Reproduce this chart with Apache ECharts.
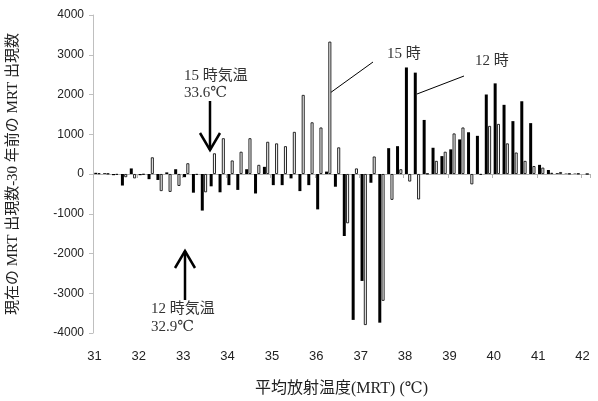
<!DOCTYPE html>
<html>
<head>
<meta charset="utf-8">
<script src="https://cdn.jsdelivr.net/npm/echarts@6/dist/echarts.min.js"></script>
<style>
  html, body { margin: 0; padding: 0; background: #fff; }
  #chart { width: 598px; height: 401px; }
</style>
</head>
<body>
<div id="chart"></div>
<script>
// MRT bins (0.2 ℃ wide); every fifth bin carries an axis label
const bins = ['31','31.2','31.4','31.6','31.8','32','32.2','32.4','32.6','32.8',
  '33','33.2','33.4','33.6','33.8','34','34.2','34.4','34.6','34.8',
  '35','35.2','35.4','35.6','35.8','36','36.2','36.4','36.6','36.8',
  '37','37.2','37.4','37.6','37.8','38','38.2','38.4','38.6','38.8',
  '39','39.2','39.4','39.6','39.8','40','40.2','40.4','40.6','40.8',
  '41','41.2','41.4','41.6','41.8','42'];

// Difference in occurrence count (present minus 30 years ago), 12:00
const noonDiff = [30,20,-30,-290,140,-30,-130,-150,40,120,
  -80,-470,-920,-310,-460,-280,-400,120,-490,180,
  -280,-280,-110,-430,-280,-890,60,-320,-1560,-3670,
  -2690,-220,-3740,650,700,2680,2550,1360,660,450,
  620,870,1050,960,2000,2280,1740,1330,1830,1280,
  230,100,20,10,10,0];

// Difference in occurrence count (present minus 30 years ago), 15:00
const afternoonDiff = [20,10,-20,-80,-110,-15,420,-430,-450,-300,
  270,-20,-460,520,900,340,560,900,230,810,
  770,700,1060,1990,1300,1170,3330,670,-1240,140,
  -3800,440,-3190,-650,120,-190,-640,10,330,560,
  1020,1170,-260,-20,1210,1260,770,540,330,200,
  160,30,50,10,10,0];

const yMin = -4000, yMax = 4000, yStep = 1000;

const serifJP = "'Liberation Serif', 'DejaVu Serif', 'Noto Sans CJK JP', serif";
const annColor = '#333';

const chart = echarts.init(document.getElementById('chart'), null, { renderer: 'canvas' });

const stroke = { stroke: '#000', lineWidth: 2.5, fill: null };

chart.setOption({
  animation: false,
  backgroundColor: '#fff',
  grid: { left: 93, right: 8, top: 15, bottom: 68, containLabel: false, outerBoundsMode: 'none' },
  xAxis: [
    {
      // axis line at zero with tick marks between bins
      type: 'category',
      data: bins,
      boundaryGap: true,
      axisLine: { onZero: true, lineStyle: { color: '#b3b3b3', width: 1 } },
      axisTick: { show: true, interval: 4, length: 4, inside: false, lineStyle: { color: '#b3b3b3' } },
      axisLabel: { show: false },
      splitLine: { show: false }
    },
    {
      // labels along the bottom edge
      type: 'category',
      data: bins,
      position: 'bottom',
      boundaryGap: true,
      axisLine: { show: false, onZero: false },
      axisTick: { show: false },
      axisLabel: {
        show: true, interval: 4, margin: 17,
        padding: [0, 6, 0, 0],
        color: '#222', fontSize: 13, fontFamily: "'Liberation Sans', Arial, sans-serif"
      },
      name: '平均放射温度(MRT) (℃)',
      nameLocation: 'middle',
      nameGap: 48,
      nameTextStyle: { color: '#222', fontSize: 16, fontFamily: serifJP }
    }
  ],
  yAxis: {
    type: 'value',
    min: yMin, max: yMax, interval: yStep,
    axisLine: { show: true, lineStyle: { color: '#bfbfbf', width: 1 } },
    axisTick: { show: true, length: 4, lineStyle: { color: '#bfbfbf' } },
    splitLine: { show: false },
    axisLabel: {
      color: '#222', fontSize: 12, margin: 9,
      fontFamily: "'Liberation Sans', Arial, sans-serif",
      formatter: function (v) { return String(v); }
    },
    name: '現在の MRT 出現数-30 年前の MRT 出現数',
    nameLocation: 'middle',
    nameGap: 72,
    nameRotate: 90,
    nameTextStyle: { color: '#222', fontSize: 15, fontFamily: serifJP }
  },
  series: [
    {
      name: '12 時',
      type: 'bar',
      xAxisIndex: 0,
      data: noonDiff,
      barWidth: 3,
      barGap: '10%',
      itemStyle: { color: '#000' }
    },
    {
      name: '15 時',
      type: 'bar',
      xAxisIndex: 0,
      data: afternoonDiff,
      barWidth: 3,
      barGap: '10%',
      itemStyle: { color: '#f4f4f4', borderColor: '#111', borderWidth: 0.9 }
    }
  ],
  graphic: [
    // 15:00 air temperature marker
    { type: 'text', left: 184, top: 69, style: { text: '15 時気温', font: '15px ' + serifJP, fill: annColor } },
    { type: 'text', left: 184, top: 86, style: { text: '33.6℃', font: '15px ' + serifJP, fill: annColor } },
    { type: 'polyline', shape: { points: [[210, 101], [210, 150]] }, style: stroke },
    { type: 'polyline', shape: { points: [[200, 133], [210, 150], [220, 133]] }, style: stroke },
    // 12:00 air temperature marker
    { type: 'text', left: 151, top: 302, style: { text: '12 時気温', font: '15px ' + serifJP, fill: annColor } },
    { type: 'text', left: 151, top: 320, style: { text: '32.9℃', font: '15px ' + serifJP, fill: annColor } },
    { type: 'polyline', shape: { points: [[185, 300], [185, 251]] }, style: stroke },
    { type: 'polyline', shape: { points: [[175, 268], [185, 251], [195, 268]] }, style: stroke },
    // series call-outs
    { type: 'line', shape: { x1: 330, y1: 93, x2: 373, y2: 62 }, style: { stroke: '#000', lineWidth: 1 } },
    { type: 'text', left: 387, top: 47, style: { text: '15 時', font: '15px ' + serifJP, fill: annColor } },
    { type: 'line', shape: { x1: 417, y1: 94, x2: 464, y2: 76 }, style: { stroke: '#000', lineWidth: 1 } },
    { type: 'text', left: 475, top: 54, style: { text: '12 時', font: '15px ' + serifJP, fill: annColor } }
  ]
});
</script>
</body>
</html>
